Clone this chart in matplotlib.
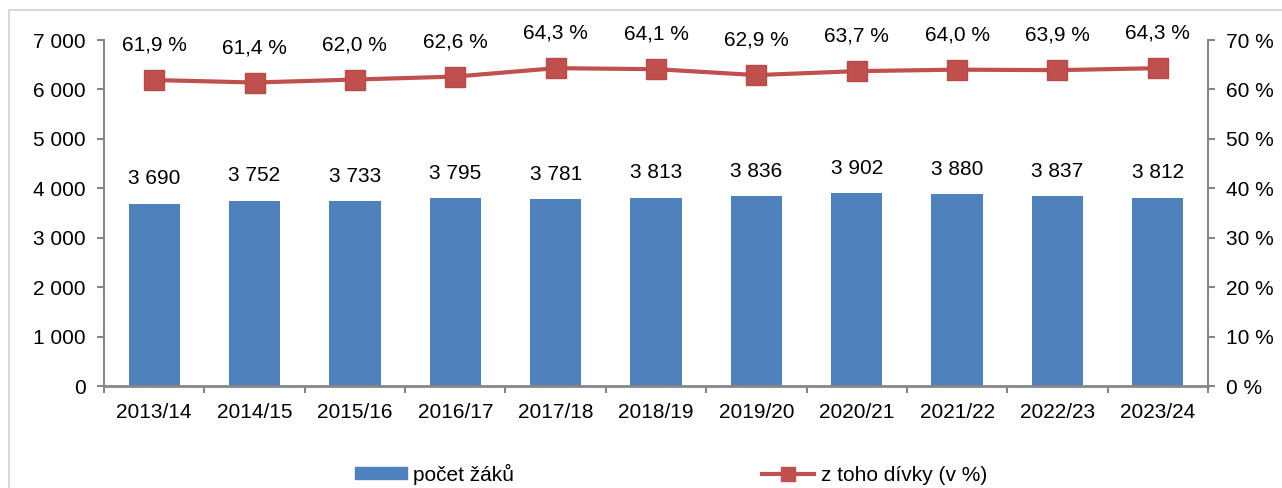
import numpy as np
import matplotlib.pyplot as plt
from matplotlib.patches import Rectangle
from matplotlib.lines import Line2D
from matplotlib.ticker import FuncFormatter

plt.rcParams['font.family'] = ['Liberation Sans', 'DejaVu Sans']

years = ["2013/14", "2014/15", "2015/16", "2016/17", "2017/18", "2018/19",
         "2019/20", "2020/21", "2021/22", "2022/23", "2023/24"]
pupils = [3690, 3752, 3733, 3795, 3781, 3813, 3836, 3902, 3880, 3837, 3812]
girls_pct = [61.9, 61.4, 62.0, 62.6, 64.3, 64.1, 62.9, 63.7, 64.0, 63.9, 64.3]

bar_col = "#4F81BD"
line_col = "#C0504D"
axis_col = "#868686"
fs = 15

fig = plt.figure(figsize=(12.82, 4.88), dpi=100)
fig.patches.append(Rectangle((9 / 1282, -0.1), 1.2, 1 - 10 / 488 + 0.1,
                             transform=fig.transFigure, fill=False,
                             edgecolor="#D9D9D9", linewidth=1.5))

ax = fig.add_axes([104 / 1282, 1 - 386 / 488, 1104 / 1282, 346 / 488])
x = np.arange(len(years))
ax.bar(x, pupils, width=0.51, color=bar_col, zorder=2)
ax.set_xlim(-0.5, len(years) - 0.5)
ax.set_ylim(0, 7000)
ax.set_yticks(np.arange(0, 7001, 1000))
ax.yaxis.set_major_formatter(FuncFormatter(lambda v, p: f"{int(v):,}".replace(",", " ")))
ax.set_xticks(x)
ax.set_xticklabels(years)
ax.set_xticks(np.arange(-0.5, len(years), 1), minor=True)
ax.tick_params(axis="x", which="major", length=0, pad=12, labelsize=fs)
ax.tick_params(axis="x", which="minor", length=5, color=axis_col, width=1.5)
ax.tick_params(axis="y", length=5, color=axis_col, width=1.5, labelsize=fs, pad=8)
for s in ["top", "right"]:
    ax.spines[s].set_visible(False)
for s in ["left", "bottom"]:
    ax.spines[s].set_color(axis_col)
ax.spines["left"].set_linewidth(1.5)
ax.spines["bottom"].set_linewidth(2)

for xi, v in zip(x, pupils):
    ax.annotate(f"{v:,}".replace(",", " "), (xi, v), xytext=(0, 18),
                textcoords="offset points", ha="center", va="center", fontsize=fs)

ax2 = ax.twinx()
ax2.plot(x, girls_pct, color=line_col, linewidth=3, marker="s", markersize=14,
         markeredgecolor="#B84A47", zorder=3)
ax2.set_ylim(0, 70)
ax2.set_yticks(np.arange(0, 71, 10))
ax2.yaxis.set_major_formatter(FuncFormatter(lambda v, p: f"{int(v)} %"))
ax2.tick_params(axis="y", length=5, color=axis_col, width=1.5, labelsize=fs, pad=8)
for s in ["top", "left", "bottom"]:
    ax2.spines[s].set_visible(False)
ax2.spines["right"].set_color(axis_col)
ax2.spines["right"].set_linewidth(1.5)

for xi, v in zip(x, girls_pct):
    ax2.annotate(f"{v:.1f} %".replace(".", ","), (xi, v), xytext=(0, 25),
                 textcoords="offset points", ha="center", va="center", fontsize=fs)

handles = [Rectangle((0, 0), 1, 1, color=bar_col),
           Line2D([], [], color=line_col, linewidth=3, marker="s", markersize=10)]
fig.legend(handles, ["počet žáků", "z toho dívky (v %)"], loc="center left",
           bbox_to_anchor=(355 / 1282, 1 - 474 / 488), ncol=2, frameon=False,
           fontsize=fs, columnspacing=11.9, handlelength=2.5, handletextpad=0.3,
           handleheight=0.55, borderpad=0, borderaxespad=0)

fig.savefig("out.png", dpi=100)
